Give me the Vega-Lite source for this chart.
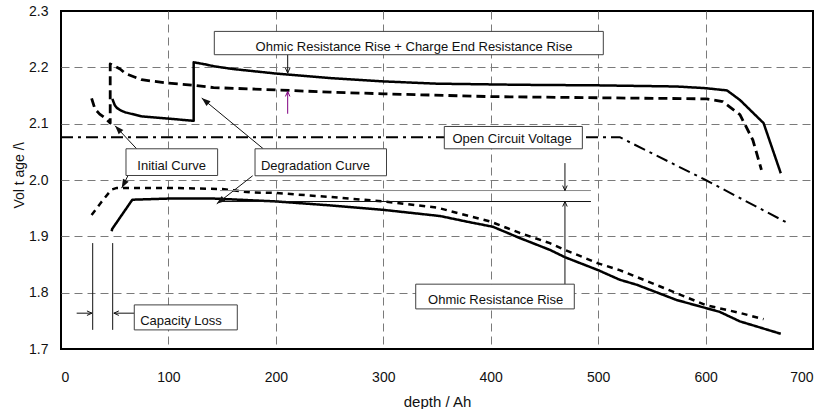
{
  "$schema": "https://vega.github.io/schema/vega-lite/v6.json",
  "width": 752,
  "height": 338,
  "autosize": {"type": "none"},
  "padding": {"left": 61, "top": 11, "right": 12, "bottom": 60},
  "config": {
    "font": "Liberation Sans",
    "view": {"stroke": "black", "strokeWidth": 2}
  },
  "datasets": {
    "curves": [
      {"s": "init_c", "x": 28.5, "y": 2.145},
      {"s": "init_c", "x": 31.6, "y": 2.126},
      {"s": "init_c", "x": 36, "y": 2.117},
      {"s": "init_c", "x": 41, "y": 2.11},
      {"s": "init_c", "x": 45.8, "y": 2.101},
      {"s": "init_c", "x": 45.8, "y": 2.206},
      {"s": "init_c", "x": 55, "y": 2.197},
      {"s": "init_c", "x": 60, "y": 2.189},
      {"s": "init_c", "x": 75, "y": 2.178},
      {"s": "init_c", "x": 100, "y": 2.172},
      {"s": "init_c", "x": 125, "y": 2.168},
      {"s": "init_c", "x": 142, "y": 2.164},
      {"s": "init_c", "x": 200, "y": 2.16},
      {"s": "init_c", "x": 250, "y": 2.156},
      {"s": "init_c", "x": 300, "y": 2.153},
      {"s": "init_c", "x": 400, "y": 2.148},
      {"s": "init_c", "x": 500, "y": 2.146},
      {"s": "init_c", "x": 601, "y": 2.144},
      {"s": "init_c", "x": 616, "y": 2.139},
      {"s": "init_c", "x": 632, "y": 2.116},
      {"s": "init_c", "x": 644, "y": 2.071},
      {"s": "init_c", "x": 652, "y": 2.018},
      {"s": "deg_c", "x": 47.8, "y": 2.144},
      {"s": "deg_c", "x": 50, "y": 2.133},
      {"s": "deg_c", "x": 52, "y": 2.128},
      {"s": "deg_c", "x": 56, "y": 2.123},
      {"s": "deg_c", "x": 60, "y": 2.12},
      {"s": "deg_c", "x": 75, "y": 2.113},
      {"s": "deg_c", "x": 100, "y": 2.109},
      {"s": "deg_c", "x": 123.5, "y": 2.105},
      {"s": "deg_c", "x": 123.5, "y": 2.209},
      {"s": "deg_c", "x": 135, "y": 2.205},
      {"s": "deg_c", "x": 142, "y": 2.202},
      {"s": "deg_c", "x": 160, "y": 2.197},
      {"s": "deg_c", "x": 200, "y": 2.189},
      {"s": "deg_c", "x": 250, "y": 2.181},
      {"s": "deg_c", "x": 300, "y": 2.175},
      {"s": "deg_c", "x": 350, "y": 2.171},
      {"s": "deg_c", "x": 427, "y": 2.169},
      {"s": "deg_c", "x": 500, "y": 2.168},
      {"s": "deg_c", "x": 573, "y": 2.166},
      {"s": "deg_c", "x": 600, "y": 2.163},
      {"s": "deg_c", "x": 620, "y": 2.159},
      {"s": "deg_c", "x": 632, "y": 2.142},
      {"s": "deg_c", "x": 654, "y": 2.101},
      {"s": "deg_c", "x": 670, "y": 2.012},
      {"s": "init_d", "x": 28.5, "y": 1.938},
      {"s": "init_d", "x": 38, "y": 1.962},
      {"s": "init_d", "x": 47, "y": 1.983},
      {"s": "init_d", "x": 52, "y": 1.986},
      {"s": "init_d", "x": 100, "y": 1.986},
      {"s": "init_d", "x": 150, "y": 1.984},
      {"s": "init_d", "x": 176, "y": 1.978},
      {"s": "init_d", "x": 200, "y": 1.977},
      {"s": "init_d", "x": 250, "y": 1.97},
      {"s": "init_d", "x": 300, "y": 1.962},
      {"s": "init_d", "x": 350, "y": 1.951},
      {"s": "init_d", "x": 400, "y": 1.926},
      {"s": "init_d", "x": 427, "y": 1.906},
      {"s": "init_d", "x": 455, "y": 1.888},
      {"s": "init_d", "x": 469, "y": 1.876},
      {"s": "init_d", "x": 500, "y": 1.852},
      {"s": "init_d", "x": 520, "y": 1.84},
      {"s": "init_d", "x": 550, "y": 1.817},
      {"s": "init_d", "x": 600, "y": 1.778},
      {"s": "init_d", "x": 632, "y": 1.764},
      {"s": "init_d", "x": 654, "y": 1.753},
      {"s": "deg_d", "x": 47.2, "y": 1.909},
      {"s": "deg_d", "x": 47.6, "y": 1.913},
      {"s": "deg_d", "x": 66.4, "y": 1.965},
      {"s": "deg_d", "x": 100, "y": 1.967},
      {"s": "deg_d", "x": 143, "y": 1.967},
      {"s": "deg_d", "x": 200, "y": 1.962},
      {"s": "deg_d", "x": 250, "y": 1.955},
      {"s": "deg_d", "x": 300, "y": 1.947},
      {"s": "deg_d", "x": 353, "y": 1.936},
      {"s": "deg_d", "x": 378, "y": 1.926},
      {"s": "deg_d", "x": 402, "y": 1.917},
      {"s": "deg_d", "x": 427, "y": 1.897},
      {"s": "deg_d", "x": 455, "y": 1.876},
      {"s": "deg_d", "x": 469, "y": 1.863},
      {"s": "deg_d", "x": 500, "y": 1.84},
      {"s": "deg_d", "x": 520, "y": 1.823},
      {"s": "deg_d", "x": 536, "y": 1.814},
      {"s": "deg_d", "x": 573, "y": 1.787},
      {"s": "deg_d", "x": 613, "y": 1.766},
      {"s": "deg_d", "x": 632, "y": 1.749},
      {"s": "deg_d", "x": 670, "y": 1.727},
      {"s": "ocv", "x": 0, "y": 2.076},
      {"s": "ocv", "x": 520, "y": 2.076},
      {"s": "ocv", "x": 600, "y": 2.0},
      {"s": "ocv", "x": 677, "y": 1.923}
    ],
    "rules": [
      {"x": 211, "y": 2.2224, "x2": 211, "y2": 2.1899, "c": "k"},
      {"x": 211, "y": 2.1176, "x2": 211, "y2": 2.1572, "c": "p"},
      {"x": 70.4, "y": 2.0554, "x2": 50.3, "y2": 2.0963, "c": "k"},
      {"x": 62.4, "y": 2.008, "x2": 56.5, "y2": 1.9856, "c": "k"},
      {"x": 188.3, "y": 2.0554, "x2": 131, "y2": 2.1455, "c": "k"},
      {"x": 178.4, "y": 2.0075, "x2": 145, "y2": 1.9577, "c": "k"},
      {"x": 148, "y": 1.9813, "x2": 493.3, "y2": 1.9813, "c": "g"},
      {"x": 148, "y": 1.9618, "x2": 493.3, "y2": 1.9618, "c": "k"},
      {"x": 469.1, "y": 2.03, "x2": 469.1, "y2": 1.9813, "c": "k"},
      {"x": 469.1, "y": 1.8151, "x2": 469.1, "y2": 1.9618, "c": "k"},
      {"x": 29.5, "y": 1.888, "x2": 29.5, "y2": 1.734, "c": "k"},
      {"x": 48.1, "y": 1.888, "x2": 48.1, "y2": 1.734, "c": "k"},
      {"x": 14.6, "y": 1.7636, "x2": 28.8, "y2": 1.7636, "c": "k"},
      {"x": 68.2, "y": 1.7636, "x2": 49.2, "y2": 1.7636, "c": "k"}
    ],
    "boxes": [
      {"x": 142.7, "y": 2.2638, "x2": 504.8, "y2": 2.2224},
      {"x": 356.8, "y": 2.095, "x2": 485.3, "y2": 2.0554},
      {"x": 60.5, "y": 2.0554, "x2": 145.8, "y2": 2.008},
      {"x": 180.6, "y": 2.0554, "x2": 303, "y2": 2.0075},
      {"x": 330.2, "y": 1.8151, "x2": 477.8, "y2": 1.7712},
      {"x": 68.2, "y": 1.7783, "x2": 164.1, "y2": 1.7339}
    ],
    "labels": [
      {"x": 328.6, "y": 2.2357, "t": "Ohmic Resistance Rise + Charge End Resistance Rise"},
      {"x": 419.8, "y": 2.072, "t": "Open Circuit Voltage"},
      {"x": 103, "y": 2.025, "t": "Initial Curve"},
      {"x": 236.9, "y": 2.0247, "t": "Degradation Curve"},
      {"x": 404.6, "y": 1.7863, "t": "Ohmic Resistance Rise"},
      {"x": 111.7, "y": 1.7494, "t": "Capacity Loss"}
    ],
    "openHeads": [
      {"x": 211, "y": 2.1899, "h": "down", "c": "k"},
      {"x": 211, "y": 2.1572, "h": "up", "c": "p"},
      {"x": 469.1, "y": 1.9813, "h": "down", "c": "k"},
      {"x": 469.1, "y": 1.9618, "h": "up", "c": "k"},
      {"x": 28.8, "y": 1.7636, "h": "right", "c": "k"},
      {"x": 49.2, "y": 1.7636, "h": "left", "c": "k"}
    ],
    "filledHeads": [
      {"x": 50.3, "y": 2.0963, "h": "i1", "c": "k"},
      {"x": 56.5, "y": 1.9856, "h": "i2", "c": "k"},
      {"x": 131, "y": 2.1455, "h": "d1", "c": "k"},
      {"x": 145, "y": 1.9577, "h": "d2", "c": "k"}
    ]
  },
  "encoding": {
    "x": {
      "field": "x",
      "type": "quantitative",
      "scale": {"domain": [0, 700], "nice": false, "zero": false},
      "axis": {
        "values": [0, 100, 200, 300, 400, 500, 600, 700],
        "grid": true,
        "gridDash": [8, 5],
        "gridColor": "#7a7a7a",
        "gridWidth": 1,
        "gridOpacity": {"condition": {"test": "datum.value <= 0 || datum.value >= 700", "value": 0}, "value": 1},
        "ticks": false,
        "tickSize": 0,
        "domain": false,
        "labelFontSize": 14,
        "labelColor": "#111",
        "labelPadding": 32,
        "labelBaseline": "alphabetic",
        "title": "depth / Ah",
        "titleFontSize": 15,
        "titleFontWeight": "normal",
        "titleColor": "#111",
        "titleBaseline": "alphabetic",
        "titleY": 57
      }
    },
    "y": {
      "field": "y",
      "type": "quantitative",
      "scale": {"domain": [1.7, 2.3], "nice": false, "zero": false},
      "axis": {
        "values": [1.7, 1.8, 1.9, 2.0, 2.1, 2.2, 2.3],
        "format": ".1f",
        "grid": true,
        "gridDash": [8, 5],
        "gridColor": "#7a7a7a",
        "gridWidth": 1,
        "gridOpacity": {"condition": {"test": "datum.value <= 1.7001 || datum.value >= 2.2999", "value": 0}, "value": 1},
        "ticks": false,
        "tickSize": 0,
        "domain": false,
        "labelFontSize": 14,
        "labelColor": "#111",
        "labelPadding": 13,
        "title": "Vol t age  /\\",
        "titleFontSize": 14,
        "titleFontWeight": "normal",
        "titleColor": "#111",
        "titleAngle": 270,
        "titleAlign": "center",
        "titleBaseline": "alphabetic",
        "titleX": -38,
        "titleY": 164
      }
    }
  },
  "layer": [
    {
      "data": {"name": "curves"},
      "mark": {"type": "line", "color": "black", "strokeCap": "butt", "strokeJoin": "round"},
      "encoding": {
        "detail": {"field": "s", "type": "nominal"},
        "order": {"value": null},
        "strokeDash": {
          "field": "s",
          "type": "nominal",
          "scale": {"domain": ["deg_c", "deg_d", "init_c", "init_d", "ocv"], "range": [[1, 0], [1, 0], [9, 5], [6, 5], [12, 5, 3, 5]]},
          "legend": null
        },
        "strokeWidth": {
          "field": "s",
          "type": "nominal",
          "scale": {"type": "ordinal", "domain": ["deg_c", "deg_d", "init_c", "init_d", "ocv"], "range": [2.5, 2.5, 2.8, 2.5, 2]},
          "legend": null
        }
      }
    },
    {
      "data": {"name": "rules"},
      "mark": {"type": "rule", "strokeWidth": 1},
      "encoding": {
        "x2": {"field": "x2"},
        "y2": {"field": "y2"},
        "color": {"field": "c", "type": "nominal", "scale": {"domain": ["k", "g", "p"], "range": ["#111111", "#8a8a8a", "#800080"]}, "legend": null}
      }
    },
    {
      "data": {"name": "boxes"},
      "mark": {"type": "rect", "fill": "white", "stroke": "#404040", "strokeWidth": 1},
      "encoding": {
        "x2": {"field": "x2"},
        "y2": {"field": "y2"}
      }
    },
    {
      "data": {"name": "labels"},
      "mark": {"type": "text", "fontSize": 13, "align": "center", "baseline": "middle", "color": "#111"},
      "encoding": {
        "text": {"field": "t", "type": "nominal"}
      }
    },
    {
      "data": {"name": "openHeads"},
      "mark": {"type": "point", "shape": "M-0.45,1L0,0L0.45,1", "filled": false, "size": 100, "strokeWidth": 1, "opacity": 1},
      "encoding": {
        "angle": {"field": "h", "type": "nominal", "scale": {"type": "ordinal", "domain": ["up", "right", "down", "left", "i1", "i2", "d1", "d2"], "range": [0, 90, 180, 270, 317, 208, 309.5, 232]}, "legend": null},
        "color": {"field": "c", "type": "nominal", "scale": {"domain": ["k", "g", "p"], "range": ["#111111", "#8a8a8a", "#800080"]}, "legend": null}
      }
    },
    {
      "data": {"name": "filledHeads"},
      "mark": {"type": "point", "shape": "M0,0L-0.4,1.1L0.4,1.1Z", "filled": true, "size": 256, "opacity": 1},
      "encoding": {
        "angle": {"field": "h", "type": "nominal", "scale": {"type": "ordinal", "domain": ["up", "right", "down", "left", "i1", "i2", "d1", "d2"], "range": [0, 90, 180, 270, 317, 208, 309.5, 232]}, "legend": null},
        "color": {"field": "c", "type": "nominal", "scale": {"domain": ["k", "g", "p"], "range": ["#111111", "#8a8a8a", "#800080"]}, "legend": null}
      }
    }
  ]
}
